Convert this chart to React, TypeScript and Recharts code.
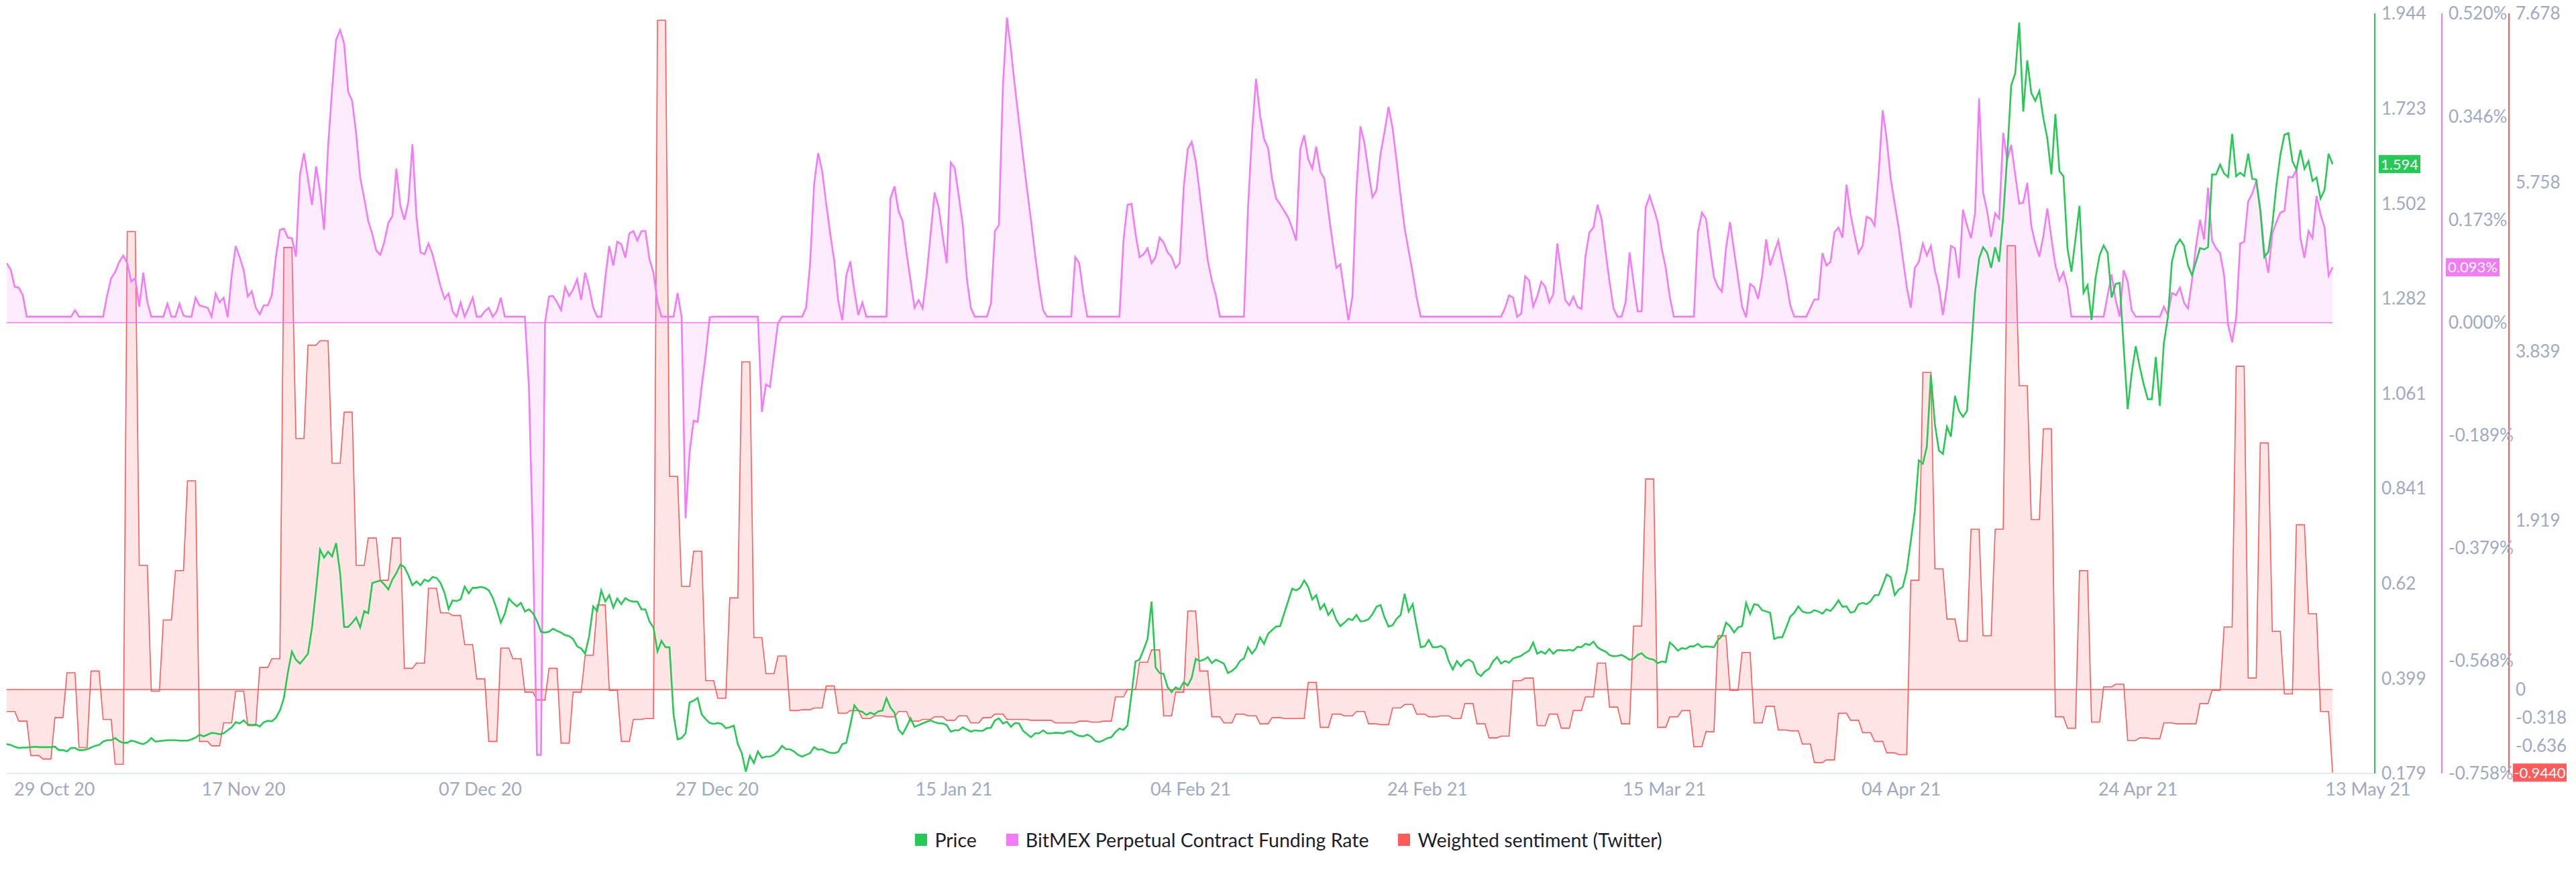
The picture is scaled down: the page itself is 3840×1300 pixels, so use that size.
import React from 'react';
import { ComposedChart, Line, Area, XAxis, YAxis, ReferenceLine, Legend } from 'recharts';

// 8-hour slots, 29 Oct 2020 00:00 -> 10 May 2021 00:00 (580 slots)
const priceValues: number[] = [
  0.247, 0.245, 0.241, 0.238, 0.239, 0.239, 0.240, 0.241, 0.240, 0.240,
  0.240, 0.240, 0.241, 0.233, 0.233, 0.230, 0.238, 0.238, 0.233, 0.233,
  0.235, 0.239, 0.243, 0.245, 0.253, 0.256, 0.256, 0.261, 0.254, 0.250,
  0.250, 0.255, 0.253, 0.249, 0.247, 0.252, 0.261, 0.253, 0.254, 0.255,
  0.256, 0.256, 0.256, 0.255, 0.255, 0.255, 0.258, 0.262, 0.269, 0.265,
  0.269, 0.273, 0.272, 0.270, 0.272, 0.279, 0.286, 0.298, 0.295, 0.302,
  0.293, 0.291, 0.293, 0.288, 0.298, 0.301, 0.300, 0.308, 0.325, 0.354,
  0.414, 0.462, 0.443, 0.434, 0.445, 0.457, 0.518, 0.604, 0.699, 0.680,
  0.694, 0.683, 0.714, 0.644, 0.519, 0.519, 0.529, 0.541, 0.518, 0.556,
  0.551, 0.621, 0.624, 0.627, 0.618, 0.606, 0.629, 0.644, 0.664, 0.658,
  0.639, 0.616, 0.625, 0.616, 0.629, 0.625, 0.635, 0.633, 0.621, 0.598,
  0.561, 0.581, 0.579, 0.583, 0.613, 0.597, 0.610, 0.610, 0.612, 0.610,
  0.604, 0.587, 0.560, 0.529, 0.550, 0.585, 0.575, 0.567, 0.575, 0.555,
  0.560, 0.551, 0.533, 0.508, 0.506, 0.508, 0.515, 0.510, 0.506, 0.500,
  0.498, 0.491, 0.474, 0.469, 0.457, 0.498, 0.567, 0.556, 0.604, 0.578,
  0.593, 0.564, 0.585, 0.572, 0.586, 0.580, 0.578, 0.578, 0.560, 0.560,
  0.532, 0.518, 0.462, 0.487, 0.472, 0.472, 0.316, 0.258, 0.261, 0.272,
  0.344, 0.348, 0.354, 0.316, 0.305, 0.296, 0.294, 0.296, 0.294, 0.284,
  0.286, 0.290, 0.247, 0.226, 0.183, 0.220, 0.203, 0.230, 0.215, 0.218,
  0.218, 0.222, 0.230, 0.243, 0.235, 0.235, 0.230, 0.222, 0.218, 0.222,
  0.226, 0.240, 0.234, 0.235, 0.230, 0.227, 0.226, 0.229, 0.247, 0.250,
  0.291, 0.337, 0.325, 0.322, 0.315, 0.320, 0.316, 0.323, 0.325, 0.354,
  0.332, 0.320, 0.281, 0.270, 0.287, 0.307, 0.287, 0.291, 0.295, 0.299,
  0.302, 0.298, 0.295, 0.295, 0.291, 0.276, 0.279, 0.279, 0.286, 0.281,
  0.276, 0.279, 0.278, 0.278, 0.284, 0.285, 0.302, 0.307, 0.295, 0.299,
  0.287, 0.296, 0.295, 0.278, 0.270, 0.263, 0.272, 0.272, 0.279, 0.272,
  0.272, 0.273, 0.273, 0.272, 0.276, 0.277, 0.270, 0.266, 0.265, 0.269,
  0.264, 0.254, 0.252, 0.256, 0.261, 0.263, 0.275, 0.283, 0.280, 0.290,
  0.362, 0.439, 0.443, 0.466, 0.491, 0.578, 0.425, 0.412, 0.410, 0.379,
  0.368, 0.379, 0.374, 0.391, 0.383, 0.401, 0.445, 0.440, 0.443, 0.449,
  0.435, 0.443, 0.439, 0.434, 0.412, 0.417, 0.425, 0.440, 0.446, 0.472,
  0.457, 0.469, 0.495, 0.480, 0.503, 0.512, 0.520, 0.521, 0.550, 0.579,
  0.608, 0.604, 0.610, 0.627, 0.612, 0.583, 0.593, 0.560, 0.572, 0.547,
  0.560, 0.535, 0.521, 0.529, 0.538, 0.535, 0.547, 0.532, 0.533, 0.537,
  0.549, 0.566, 0.570, 0.541, 0.520, 0.523, 0.538, 0.547, 0.596, 0.555,
  0.572, 0.521, 0.472, 0.474, 0.489, 0.472, 0.472, 0.475, 0.468, 0.439,
  0.420, 0.440, 0.428, 0.439, 0.443, 0.437, 0.412, 0.405, 0.416, 0.422,
  0.439, 0.449, 0.434, 0.440, 0.436, 0.446, 0.449, 0.452, 0.459, 0.464,
  0.483, 0.457, 0.462, 0.457, 0.468, 0.457, 0.465, 0.465, 0.464, 0.466,
  0.464, 0.473, 0.472, 0.480, 0.477, 0.485, 0.472, 0.466, 0.462, 0.454,
  0.451, 0.452, 0.454, 0.449, 0.443, 0.445, 0.454, 0.458, 0.449, 0.445,
  0.443, 0.435, 0.439, 0.437, 0.483, 0.475, 0.464, 0.470, 0.468, 0.474,
  0.474, 0.480, 0.472, 0.474, 0.473, 0.472, 0.489, 0.498, 0.529, 0.521,
  0.506, 0.518, 0.521, 0.575, 0.549, 0.572, 0.570, 0.558, 0.555, 0.552,
  0.491, 0.495, 0.495, 0.518, 0.543, 0.552, 0.567, 0.555, 0.552, 0.552,
  0.558, 0.555, 0.550, 0.560, 0.556, 0.567, 0.581, 0.566, 0.567, 0.552,
  0.555, 0.572, 0.575, 0.572, 0.579, 0.593, 0.593, 0.616, 0.641, 0.635,
  0.593, 0.606, 0.612, 0.650, 0.719, 0.788, 0.906, 0.898, 0.938, 1.105,
  0.990, 0.929, 0.921, 0.984, 0.961, 1.056, 1.021, 1.007, 1.021, 1.157,
  1.295, 1.374, 1.401, 1.388, 1.353, 1.401, 1.367, 1.472, 1.612, 1.777,
  1.805, 1.923, 1.716, 1.835, 1.759, 1.741, 1.764, 1.701, 1.653, 1.570,
  1.710, 1.578, 1.566, 1.399, 1.344, 1.420, 1.497, 1.295, 1.313, 1.232,
  1.330, 1.382, 1.405, 1.388, 1.284, 1.316, 1.318, 1.169, 1.025, 1.109,
  1.171, 1.123, 1.082, 1.048, 1.048, 1.146, 1.033, 1.178, 1.238, 1.367,
  1.405, 1.419, 1.405, 1.359, 1.336, 1.367, 1.399, 1.396, 1.401, 1.570,
  1.570, 1.593, 1.572, 1.564, 1.664, 1.566, 1.574, 1.566, 1.618, 1.560,
  1.558, 1.486, 1.378, 1.390, 1.453, 1.543, 1.615, 1.662, 1.666, 1.601,
  1.581, 1.627, 1.583, 1.601, 1.555, 1.563, 1.514, 1.534, 1.618, 1.594,
];

// BitMEX funding rate in %, same 8-hour slots
const fundingValues: number[] = [
  0.100, 0.089, 0.060, 0.059, 0.046, 0.010, 0.010, 0.010, 0.010, 0.010,
  0.010, 0.010, 0.010, 0.010, 0.010, 0.010, 0.010, 0.021, 0.010, 0.010,
  0.010, 0.010, 0.010, 0.010, 0.010, 0.046, 0.075, 0.085, 0.102, 0.113,
  0.100, 0.069, 0.075, 0.027, 0.084, 0.035, 0.010, 0.010, 0.010, 0.010,
  0.032, 0.010, 0.010, 0.032, 0.012, 0.010, 0.010, 0.042, 0.029, 0.027,
  0.025, 0.010, 0.049, 0.034, 0.042, 0.009, 0.079, 0.129, 0.110, 0.088,
  0.044, 0.053, 0.025, 0.014, 0.029, 0.029, 0.046, 0.110, 0.156, 0.158,
  0.143, 0.142, 0.111, 0.249, 0.285, 0.242, 0.198, 0.263, 0.221, 0.156,
  0.296, 0.392, 0.476, 0.492, 0.469, 0.388, 0.373, 0.317, 0.244, 0.209,
  0.171, 0.149, 0.121, 0.114, 0.136, 0.168, 0.179, 0.259, 0.196, 0.173,
  0.204, 0.300, 0.179, 0.118, 0.115, 0.133, 0.115, 0.088, 0.061, 0.040,
  0.049, 0.019, 0.010, 0.034, 0.010, 0.025, 0.042, 0.010, 0.010, 0.019,
  0.025, 0.010, 0.019, 0.042, 0.010, 0.010, 0.010, 0.010, 0.010, 0.010,
  -0.108, -0.375, -0.727, -0.727, 0.000, 0.044, 0.045, 0.034, 0.021, 0.060,
  0.045, 0.056, 0.073, 0.038, 0.084, 0.059, 0.025, 0.010, 0.010, 0.075,
  0.129, 0.096, 0.136, 0.132, 0.109, 0.150, 0.154, 0.138, 0.154, 0.154,
  0.107, 0.084, 0.034, 0.010, 0.010, 0.010, 0.010, 0.050, 0.010, -0.329,
  -0.218, -0.165, -0.167, -0.108, -0.054, 0.009, 0.010, 0.010, 0.010, 0.010,
  0.010, 0.010, 0.010, 0.010, 0.010, 0.010, 0.010, 0.010, -0.150, -0.104,
  -0.108, -0.054, -0.001, 0.010, 0.010, 0.010, 0.010, 0.010, 0.010, 0.025,
  0.100, 0.234, 0.285, 0.255, 0.200, 0.150, 0.104, 0.036, 0.004, 0.079,
  0.103, 0.054, 0.013, 0.034, 0.010, 0.010, 0.010, 0.010, 0.010, 0.010,
  0.209, 0.229, 0.188, 0.171, 0.117, 0.071, 0.025, 0.038, 0.024, 0.079,
  0.150, 0.219, 0.194, 0.146, 0.100, 0.269, 0.260, 0.213, 0.165, 0.075,
  0.025, 0.010, 0.010, 0.010, 0.010, 0.032, 0.154, 0.164, 0.400, 0.513,
  0.459, 0.396, 0.338, 0.280, 0.224, 0.171, 0.115, 0.063, 0.021, 0.010,
  0.010, 0.010, 0.010, 0.010, 0.010, 0.010, 0.110, 0.100, 0.050, 0.010,
  0.010, 0.010, 0.010, 0.010, 0.010, 0.010, 0.010, 0.010, 0.138, 0.198,
  0.200, 0.150, 0.110, 0.115, 0.125, 0.100, 0.110, 0.143, 0.135, 0.118,
  0.110, 0.092, 0.100, 0.227, 0.292, 0.304, 0.271, 0.217, 0.159, 0.104,
  0.071, 0.046, 0.010, 0.010, 0.010, 0.010, 0.010, 0.010, 0.010, 0.192,
  0.317, 0.410, 0.350, 0.309, 0.294, 0.242, 0.209, 0.199, 0.188, 0.177,
  0.159, 0.138, 0.292, 0.315, 0.275, 0.259, 0.296, 0.254, 0.242, 0.188,
  0.138, 0.092, 0.098, 0.050, 0.004, 0.044, 0.225, 0.330, 0.302, 0.254,
  0.211, 0.223, 0.284, 0.321, 0.363, 0.327, 0.271, 0.213, 0.159, 0.121,
  0.084, 0.042, 0.010, 0.010, 0.010, 0.010, 0.010, 0.010, 0.010, 0.010,
  0.010, 0.010, 0.010, 0.010, 0.010, 0.010, 0.010, 0.010, 0.010, 0.010,
  0.010, 0.010, 0.010, 0.025, 0.046, 0.042, 0.010, 0.015, 0.078, 0.071,
  0.027, 0.044, 0.069, 0.060, 0.034, 0.048, 0.133, 0.085, 0.038, 0.029,
  0.044, 0.027, 0.023, 0.111, 0.152, 0.160, 0.198, 0.175, 0.121, 0.069,
  0.024, 0.010, 0.010, 0.034, 0.118, 0.067, 0.019, 0.019, 0.194, 0.213,
  0.192, 0.169, 0.125, 0.092, 0.044, 0.010, 0.010, 0.010, 0.010, 0.010,
  0.010, 0.152, 0.185, 0.175, 0.125, 0.077, 0.060, 0.052, 0.125, 0.169,
  0.121, 0.075, 0.027, 0.009, 0.065, 0.060, 0.040, 0.079, 0.140, 0.096,
  0.118, 0.138, 0.104, 0.071, 0.029, 0.010, 0.010, 0.010, 0.010, 0.025,
  0.039, 0.039, 0.117, 0.096, 0.102, 0.152, 0.160, 0.143, 0.232, 0.183,
  0.148, 0.117, 0.129, 0.178, 0.175, 0.163, 0.250, 0.357, 0.309, 0.242,
  0.200, 0.159, 0.109, 0.060, 0.025, 0.092, 0.102, 0.133, 0.113, 0.129,
  0.088, 0.060, 0.013, 0.060, 0.129, 0.125, 0.075, 0.190, 0.163, 0.142,
  0.184, 0.377, 0.219, 0.188, 0.144, 0.184, 0.175, 0.319, 0.274, 0.299,
  0.249, 0.200, 0.202, 0.235, 0.163, 0.133, 0.111, 0.146, 0.192, 0.142,
  0.096, 0.071, 0.085, 0.059, 0.010, 0.010, 0.010, 0.010, 0.010, 0.010,
  0.010, 0.010, 0.010, 0.046, 0.081, 0.038, 0.010, 0.088, 0.069, 0.021,
  0.010, 0.010, 0.010, 0.010, 0.010, 0.010, 0.010, 0.027, 0.013, 0.050,
  0.046, 0.059, 0.034, 0.024, 0.071, 0.129, 0.173, 0.140, 0.227, 0.138,
  0.125, 0.117, 0.079, -0.004, -0.033, 0.009, 0.133, 0.136, 0.204, 0.217,
  0.238, 0.192, 0.121, 0.084, 0.150, 0.169, 0.185, 0.188, 0.245, 0.244,
  0.257, 0.142, 0.109, 0.154, 0.142, 0.213, 0.182, 0.160, 0.079, 0.093,
];

// Weighted sentiment (Twitter), one value per day, 29 Oct 2020 -> 10 May 2021
const sentimentDaily: number[] = [
  -0.25, -0.36, -0.75, -0.79, -0.32, 0.19, -0.66, 0.21, -0.34, -0.85,
  5.20, 1.41, -0.02, 0.79, 1.35, 2.37, -0.59, -0.64, -0.38, -0.02,
  -0.41, 0.25, 0.35, 5.02, 2.85, 3.91, 3.96, 2.57, 3.15, 1.41,
  1.72, 1.24, 1.72, 0.24, 0.30, 1.15, 0.87, 0.84, 0.51, 0.12,
  -0.59, 0.47, 0.35, -0.03, -0.12, 0.24, -0.61, -0.03, 0.39, 0.96,
  -0.01, -0.59, -0.34, -0.33, 7.60, 2.42, 1.17, 1.57, 0.10, -0.10,
  1.04, 3.72, 0.59, 0.18, 0.38, -0.24, -0.23, -0.21, 0.04, -0.27,
  -0.24, -0.33, -0.30, -0.31, -0.25, -0.36, -0.34, -0.31, -0.35, -0.30,
  -0.38, -0.32, -0.28, -0.34, -0.34, -0.35, -0.35, -0.38, -0.38, -0.36,
  -0.37, -0.36, -0.085, 0.0, 0.31, 0.45, -0.30, -0.03, 0.89, 0.21,
  -0.31, -0.38, -0.28, -0.30, -0.39, -0.32, -0.33, -0.33, 0.08, -0.43,
  -0.28, -0.30, -0.25, -0.39, -0.40, -0.21, -0.17, -0.28, -0.31, -0.30,
  -0.33, -0.16, -0.39, -0.55, -0.53, 0.10, 0.13, -0.41, -0.28, -0.44,
  -0.24, -0.085, 0.30, -0.20, -0.39, 0.72, 2.39, -0.43, -0.31, -0.24,
  -0.65, -0.48, 0.61, -0.01, 0.42, -0.38, -0.19, -0.46, -0.47, -0.62,
  -0.83, -0.80, -0.27, -0.35, -0.49, -0.59, -0.72, -0.74, 1.24, 3.60,
  1.37, 0.80, 0.55, 1.82, 0.61, 1.82, 5.04, 3.45, 1.93, 2.96,
  -0.31, -0.44, 1.35, -0.37, 0.03, 0.06, -0.58, -0.55, -0.56, -0.38,
  -0.39, -0.39, -0.16, -0.01, 0.71, 3.67, 0.13, 2.80, 0.66, -0.05,
  1.87, 0.86, -0.25, -0.944,
];

const xTickLabels: string[] = [
  '29 Oct 20', '17 Nov 20', '07 Dec 20', '27 Dec 20', '15 Jan 21', '04 Feb 21',
  '24 Feb 21', '15 Mar 21', '04 Apr 21', '24 Apr 21', '13 May 21',
];
const priceTicks: number[] = [0.179, 0.399, 0.62, 0.841, 1.061, 1.282, 1.502, 1.723, 1.944];
const fundingTicks: number[] = [-0.758, -0.568, -0.379, -0.189, 0, 0.173, 0.346, 0.52];
const sentimentTicks: number[] = [-0.953, -0.636, -0.318, 0, 1.919, 3.839, 5.758, 7.678];

const legendItems = [
  { label: 'Price', color: '#26C953' },
  { label: 'BitMEX Perpetual Contract Funding Rate', color: '#F47BF7' },
  { label: 'Weighted sentiment (Twitter)', color: '#FF5B5B' },
];

const GREEN = '#26C953';
const PINK = '#F47BF7';
const RED = '#FF5B5B';
const TICK_COLOR = '#A0A9C2';
const FONT = "Lato, 'Open Sans', 'DejaVu Sans', sans-serif";

const SLOTS_PER_DAY = 3;
const X_MAX = 196.5;
const xTicks = xTickLabels.map((_, i) => (X_MAX * i) / (xTickLabels.length - 1));

const data = priceValues.map((p, k) => ({
  t: k / SLOTS_PER_DAY,
  price: p,
  funding: fundingValues[k],
  sentiment: sentimentDaily[Math.floor(k / SLOTS_PER_DAY)],
}));
const lastT = data[data.length - 1].t;
const lastPrice = priceValues[priceValues.length - 1];
const lastFunding = fundingValues[fundingValues.length - 1];
const lastSentiment = sentimentDaily[sentimentDaily.length - 1];

const XTick = (props: any) => {
  const { x, y, payload } = props;
  const idx = xTicks.findIndex((v) => Math.abs(v - payload.value) < 1e-6);
  const label = idx >= 0 ? xTickLabels[idx] : '';
  let anchor: 'start' | 'middle' | 'end' = 'middle';
  let dx = 0;
  if (idx === 0) {
    anchor = 'start';
    dx = 11;
  } else if (idx === xTickLabels.length - 1) {
    dx = -10;
  }
  return (
    <text x={x + dx} y={y + 25} textAnchor={anchor} fill={TICK_COLOR} fontSize={27} fontFamily={FONT}>
      {label}
    </text>
  );
};

// Y tick renderer: normal tick labels, plus a coloured "last value" badge drawn
// at the series' last value (passed in as an extra tick, rendered last = on top).
const makeYTick =
  (badgeValue: number, badgeText: string, color: string, w: number, fmt: (v: number) => string) =>
  (props: any) => {
    const { x, y, payload } = props;
    if (payload.value === badgeValue) {
      const rx = x - 4;
      return (
        <g>
          <rect x={rx} y={y - 13.5} width={w} height={27} fill={color} />
          <text x={rx + w / 2} y={y} dy="0.36em" textAnchor="middle" fill="#ffffff" fontSize={22} fontFamily={FONT}>
            {badgeText}
          </text>
        </g>
      );
    }
    return (
      <text x={x} y={y} dy="0.355em" textAnchor="start" fill={TICK_COLOR} fontSize={26} fontFamily={FONT}>
        {fmt(payload.value)}
      </text>
    );
  };

const fmtPlain = (v: number) => String(v);
const fmtPct = (v: number) => `${v.toFixed(3)}%`;

const PriceTick = makeYTick(lastPrice, lastPrice.toFixed(3), GREEN, 62, fmtPlain);
const FundingTick = makeYTick(lastFunding, `${lastFunding.toFixed(3)}%`, PINK, 80, fmtPct);
const SentimentTick = makeYTick(lastSentiment, lastSentiment.toFixed(4), RED, 80, fmtPlain);

const LegendContent = () => (
  <div
    style={{
      height: 90,
      boxSizing: 'border-box',
      paddingTop: 28,
      display: 'flex',
      justifyContent: 'center',
      alignItems: 'flex-start',
      fontFamily: FONT,
    }}
  >
    {legendItems.map((it, i) => (
      <div key={it.label} style={{ display: 'flex', alignItems: 'center', marginLeft: i ? 44 : 0, height: 28 }}>
        <span style={{ width: 18, height: 18, background: it.color, marginRight: 11, display: 'inline-block' }} />
        <span style={{ fontSize: 28.5, lineHeight: '28px', color: '#1B1E2C', whiteSpace: 'nowrap' }}>{it.label}</span>
      </div>
    ))}
  </div>
);

export default function App() {
  return (
    <div style={{ width: 3824, height: 1300, marginTop: -8, fontFamily: FONT }}>
      <ComposedChart width={3824} height={1300} data={data} margin={{ top: 20, right: 0, bottom: 0, left: 2 }}>
        <XAxis
          dataKey="t"
          type="number"
          domain={[0, X_MAX]}
          ticks={xTicks}
          interval={0}
          tick={<XTick />}
          tickLine={false}
          axisLine={{ stroke: '#E3E7F1', strokeWidth: 2 }}
          height={57}
          allowDataOverflow
        />
        <YAxis
          yAxisId="y1price"
          orientation="right"
          domain={[0.179, 1.944]}
          ticks={[...priceTicks, lastPrice]}
          interval={0}
          width={100}
          axisLine={{ stroke: GREEN, strokeWidth: 2 }}
          tickLine={false}
          tickSize={0}
          tickMargin={10}
          tick={PriceTick}
          allowDataOverflow
        />
        <YAxis
          yAxisId="y2funding"
          orientation="right"
          domain={[-0.758, 0.52]}
          ticks={[...fundingTicks, lastFunding]}
          interval={0}
          width={100}
          axisLine={{ stroke: PINK, strokeWidth: 2 }}
          tickLine={false}
          tickSize={0}
          tickMargin={10}
          tick={FundingTick}
          allowDataOverflow
        />
        <YAxis
          yAxisId="y3sentiment"
          orientation="right"
          domain={[-0.953, 7.678]}
          ticks={[...sentimentTicks, lastSentiment]}
          interval={0}
          width={92}
          axisLine={{ stroke: RED, strokeWidth: 2 }}
          tickLine={false}
          tickSize={0}
          tickMargin={10}
          tick={SentimentTick}
          allowDataOverflow
        />
        <Legend verticalAlign="bottom" content={() => <LegendContent />} />
        <Area
          yAxisId="y3sentiment"
          dataKey="sentiment"
          type="linear"
          stroke={RED}
          strokeWidth={1.6}
          fill={RED}
          fillOpacity={0.16}
          baseValue={0}
          dot={false}
          activeDot={false}
          isAnimationActive={false}
        />
        <ReferenceLine
          yAxisId="y3sentiment"
          segment={[{ x: 0, y: 0 }, { x: lastT, y: 0 }]}
          stroke={RED}
          strokeWidth={1.5}
        />
        <Area
          yAxisId="y2funding"
          dataKey="funding"
          type="linear"
          stroke={PINK}
          strokeWidth={2.6}
          fill={PINK}
          fillOpacity={0.15}
          baseValue={0}
          dot={false}
          activeDot={false}
          isAnimationActive={false}
        />
        <ReferenceLine
          yAxisId="y2funding"
          segment={[{ x: 0, y: 0 }, { x: lastT, y: 0 }]}
          stroke={PINK}
          strokeWidth={1.5}
        />
        <Line
          yAxisId="y1price"
          dataKey="price"
          type="linear"
          stroke={GREEN}
          strokeWidth={2.6}
          dot={false}
          activeDot={false}
          isAnimationActive={false}
        />
      </ComposedChart>
    </div>
  );
}
